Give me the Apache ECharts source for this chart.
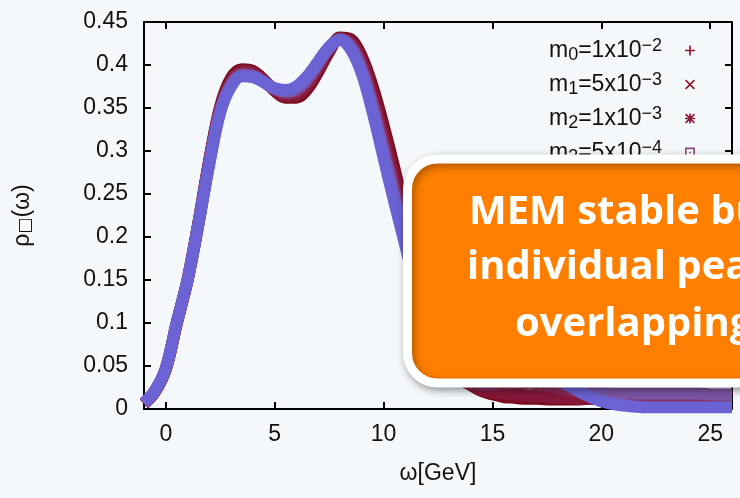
<!DOCTYPE html>
<html><head><meta charset="utf-8">
<script src="https://cdn.jsdelivr.net/npm/echarts@6/dist/echarts.min.js"></script>
<style>html,body{margin:0;padding:0;background:#f5f8fb;}#c{width:740px;height:498px;}</style>
</head><body><div id="c"></div>
<script>
// omega grid (GeV)
const omega = [-1,-0.5,0,0.5,1,1.5,2,2.5,3,3.5,4,4.5,5,5.5,6,6.5,7,7.5,8,8.5,9,9.5,10,10.5,11,11.5,12,12.5,13,13.5,14,14.5,15,15.5,16,16.5,17,17.5,18,18.5,19,19.5,20,20.5,21,21.5,22,22.5,23,23.5,24,24.5,25,25.5,26];
const rho_m0 = [0.006,0.020,0.046,0.099,0.150,0.217,0.290,0.352,0.385,0.395,0.393,0.383,0.370,0.362,0.362,0.372,0.392,0.415,0.432,0.430,0.410,0.375,0.330,0.280,0.225,0.170,0.120,0.082,0.055,0.038,0.028,0.021,0.017,0.014,0.013,0.012,0.012,0.011,0.011,0.011,0.011,0.012,0.012,0.013,0.013,0.014,0.014,0.015,0.015,0.015,0.015,0.015,0.015,0.014,0.014];
const rho_m1 = [0.006,0.020,0.046,0.099,0.150,0.216,0.289,0.350,0.382,0.393,0.391,0.382,0.371,0.364,0.365,0.376,0.395,0.417,0.431,0.427,0.405,0.367,0.320,0.270,0.216,0.163,0.115,0.078,0.052,0.036,0.028,0.023,0.020,0.018,0.017,0.016,0.015,0.014,0.013,0.013,0.012,0.012,0.012,0.012,0.013,0.013,0.014,0.014,0.015,0.015,0.015,0.015,0.014,0.014,0.013];
const rho_m2 = [0.007,0.021,0.047,0.100,0.150,0.216,0.288,0.348,0.379,0.390,0.389,0.381,0.372,0.367,0.369,0.380,0.399,0.419,0.430,0.424,0.399,0.358,0.308,0.257,0.205,0.153,0.108,0.072,0.048,0.036,0.030,0.028,0.028,0.029,0.030,0.030,0.029,0.027,0.025,0.022,0.020,0.018,0.017,0.016,0.016,0.016,0.016,0.016,0.016,0.016,0.016,0.016,0.016,0.015,0.015];
const rho_m3 = [0.007,0.021,0.047,0.100,0.150,0.215,0.286,0.346,0.377,0.388,0.387,0.380,0.372,0.369,0.372,0.384,0.402,0.420,0.430,0.421,0.394,0.351,0.300,0.248,0.197,0.146,0.103,0.068,0.046,0.037,0.034,0.033,0.035,0.038,0.040,0.041,0.040,0.037,0.032,0.027,0.023,0.020,0.019,0.018,0.018,0.018,0.018,0.018,0.018,0.018,0.018,0.018,0.017,0.017,0.017];
const rho_m4 = [0.007,0.021,0.047,0.100,0.150,0.215,0.285,0.345,0.375,0.387,0.386,0.380,0.373,0.371,0.375,0.387,0.404,0.421,0.429,0.418,0.390,0.345,0.292,0.240,0.190,0.140,0.100,0.070,0.050,0.040,0.036,0.036,0.040,0.045,0.050,0.052,0.050,0.045,0.038,0.028,0.020,0.014,0.009,0.006,0.004,0.003,0.002,0.002,0.002,0.002,0.002,0.002,0.002,0.002,0.002];
const seriesData = [rho_m0, rho_m1, rho_m2, rho_m3, rho_m4];
const seriesNames = ['m0=1x10-2','m1=5x10-3','m2=1x10-3','m3=5x10-4','m4=1x10-4'];
const massSub = ['0','1','2','3','4'];
const massMant = ['1','5','1','5','1'];
const massExp = ['-2','-3','-3','-4','-4'];
const xTicks = [0,5,10,15,20,25];
const yTicks = [0,0.05,0.1,0.15,0.2,0.25,0.3,0.35,0.4,0.45];
const yTickLabels = ['0','0.05','0.1','0.15','0.2','0.25','0.3','0.35','0.4','0.45'];
const calloutLines = ['MEM stable but','individual peaks','overlapping'];

const colors = ['#7b0d1e','#86183a','#8a2e5c','#7c56a6','#6b63d3'];
const legendColors = ['#8b1a2a','#8b1a2a','#8b1a3a','#8a4a7e','#6b63d3'];
const icons = [
 'path://M5,0H7V5H12V7H7V12H5V7H0V5H5Z',
 'path://M1.4,0L6,4.6L10.6,0L12,1.4L7.4,6L12,10.6L10.6,12L6,7.4L1.4,12L0,10.6L4.6,6L0,1.4Z',
 'path://M5,0H7V5H12V7H7V12H5V7H0V5H5Z M1.4,0L6,4.6L10.6,0L12,1.4L7.4,6L12,10.6L10.6,12L6,7.4L1.4,12L0,10.6L4.6,6L0,1.4Z',
 'path://M0,0H12V12H0Z M2,2V10H10V2Z M5,5H7V7H5Z',
 'path://M6,0A6,6,0,1,1,5.99,0Z'
];

const chart = echarts.init(document.getElementById('c'), null, {renderer:'canvas'});
const axisFont = {fontFamily:'Liberation Sans', fontSize:23, color:'#111'};
const frameLine = {onZero:false, lineStyle:{color:'#000', width:2}};
const option = {
  backgroundColor:'#f5f8fb',
  animation:false,
  grid:{left:144, right:8, top:22, bottom:89},
  legend:{
    orient:'vertical', right:40, top:32, align:'right',
    itemWidth:10, itemHeight:10, itemGap:7,
    data: seriesNames.map((n,i)=>({name:n, icon:icons[i], itemStyle:{color:legendColors[i]}})),
    formatter: function(name){
      const i = seriesNames.indexOf(name);
      return '{b|m}{sub|'+massSub[i]+'}{b|='+massMant[i]+'x10}{sup|'+massExp[i].replace('-','\u2212')+'}{g|}';
    },
    textStyle:{
      fontFamily:'Liberation Sans', color:'#111',
      rich:{
        b:{fontSize:23, lineHeight:27, fontFamily:'Liberation Sans', color:'#111'},
        sub:{fontSize:18, lineHeight:12, verticalAlign:'bottom', fontFamily:'Liberation Sans', color:'#111'},
        sup:{fontSize:18, lineHeight:14, verticalAlign:'top', fontFamily:'Liberation Sans', color:'#111'},
        g:{width:18}
      }
    }
  },
  xAxis:[{
    type:'value', min:-1, max:26, position:'bottom',
    name:'ω[GeV]', nameLocation:'middle', nameGap:53,
    nameTextStyle:axisFont,
    axisLine:frameLine,
    axisTick:{inside:true, length:7, lineStyle:{color:'#000', width:2}, customValues:xTicks},
    axisLabel:Object.assign({margin:14, customValues:xTicks}, axisFont),
    splitLine:{show:false}
  },{
    type:'value', min:-1, max:26, position:'top',
    axisLine:frameLine,
    axisTick:{inside:true, length:7, lineStyle:{color:'#000', width:2}, customValues:xTicks},
    axisLabel:{show:false}, splitLine:{show:false}
  }],
  yAxis:[{
    type:'value', min:0, max:0.45, interval:0.05, position:'left',
    name:'{a|ρ}{s|□}{a|(ω)}', nameLocation:'middle', nameGap:110, nameRotate:90,
    nameTextStyle:{rich:{
      a:{fontFamily:'Liberation Sans', fontSize:23, color:'#111'},
      s:{fontFamily:'DejaVu Sans', fontSize:17, color:'#111', verticalAlign:'bottom', lineHeight:14}
    }},
    axisLine:frameLine,
    axisTick:{inside:true, length:7, lineStyle:{color:'#000', width:2}},
    axisLabel:Object.assign({margin:16, formatter:(v)=>yTickLabels[Math.round(v/0.05)]}, axisFont),
    splitLine:{show:false}
  },{
    type:'value', min:0, max:0.45, interval:0.05, position:'right',
    axisLine:frameLine,
    axisTick:{inside:true, length:7, lineStyle:{color:'#000', width:2}},
    axisLabel:{show:false}, splitLine:{show:false}
  }],
  series: seriesData.map((arr,i)=>({
    name:seriesNames[i], type:'line', xAxisIndex:0, yAxisIndex:0,
    data: omega.map((x,j)=>[x, arr[j]]),
    smooth:0.35, showSymbol:false, symbol:icons[i],
    lineStyle:{width:12, color:colors[i]}, itemStyle:{color:colors[i]},
    z:2+i
  })),
  graphic:{elements:[
    {type:'rect', z:100, shape:{x:407.5, y:159, width:420, height:224, r:30},
     style:{fill:'#fe7f00', stroke:'#ffffff', lineWidth:9, shadowBlur:8, shadowColor:'rgba(0,0,0,0.35)', shadowOffsetX:2, shadowOffsetY:3}},
    {type:'text', z:101, x:469, y:213, style:{text:calloutLines[0], fill:'#fff', font:'bold 40px "Open Sans"', textAlign:'left', textVerticalAlign:'middle'}},
    {type:'text', z:101, x:467, y:268, style:{text:calloutLines[1], fill:'#fff', font:'bold 40px "Open Sans"', textAlign:'left', textVerticalAlign:'middle'}},
    {type:'text', z:101, x:515, y:325, style:{text:calloutLines[2], fill:'#fff', font:'bold 40px "Open Sans"', textAlign:'left', textVerticalAlign:'middle'}}
  ]}
};
chart.setOption(option);
</script></body></html>
